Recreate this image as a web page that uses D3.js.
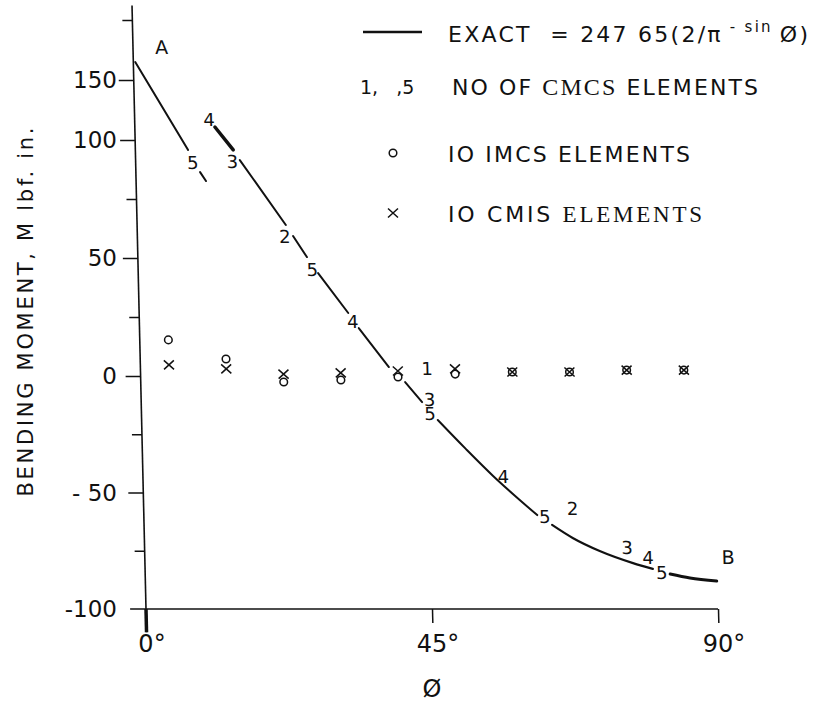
<!DOCTYPE html>
<html>
<head>
<meta charset="utf-8">
<script src="https://cdn.jsdelivr.net/npm/d3@7/dist/d3.min.js"></script>
<style>
body { margin: 0; background: #fff; }
text { font-family: "DejaVu Sans", sans-serif; fill: #111; }
.serif { font-family: "Liberation Serif", serif; }
</style>
</head>
<body>
<div id="chart"></div>
<script>
// values: phi in degrees, M in lbf.in

// the exact curve is drawn in broken pieces (gaps where the counts sit)
var curvePhi = [
    [0.3, 8.3], [10.1, 11.0], [12.6, 15.4], [16.4, 23.4], [24.5, 26.6],
    [28.3, 32.9], [34.5, 39.1], [41.6, 44.2],
    [46.6, 50.9, 55.1, 58.5, 61.9],
    [64.2, 67.4, 71.6, 76.8, 79.9],
    [82.6, 85.7, 89.9]
];
var curveM = [
    [165, 95.8], [86.4, 82.6], [110.8, 95.8], [91.5, 64.0], [59.3, 50.4],
    [43.6, 26.7], [20.3, 3.8], [-2.6, -11.2],
    [-18.9, -31.3, -42.9, -51.5, -59.7],
    [-63.9, -69.5, -75.1, -80.3, -82.8],
    [-85.0, -86.7, -88.0]
];

// 10 element results
var elemPhi = [4.5, 13.5, 22.5, 31.5, 40.5, 49.5, 58.5, 67.5, 76.5, 85.5];
var imcsM = [15.3, 7.2, -2.6, -1.7, -0.4, 0.8, 1.7, 1.7, 2.5, 2.5];
var cmisM = [4.7, 3.0, 0.8, 1.3, 2.1, 3.0, 1.7, 1.7, 2.5, 2.5];

// number of CMCS elements written beside the curve
var countText = ['5', '4', '3', '2', '5', '4', '1', '3', '5', '4', '5', '2', '3', '4', '5'];
var countPhi = [9.0, 11.7, 15.2, 23.2, 27.4, 33.6, 45.1, 45.4, 45.4, 56.7, 63.1, 67.5, 75.9, 79.2, 81.3];
var countM = [90.3, 116.7, 90.7, 58.9, 45.3, 22.9, 3.0, -10.3, -16.3, -43.3, -60.5, -56.7, -73.8, -77.7, -84.5];

var endText = ['A', 'B'];
var endPhi = [4.5, 91.8];
var endM = [177.5, -77.7];

var yMajorTicks = [-50, 0, 50, 100, 150];
var yMinorTicks = [-75, -25, 25, 75, 200];
var yLabelValues = [-100, -50, 0, 50, 100, 150];
var yLabelText = ['-100', '- 50', '0', '50', '100', '150'];
var xTicks = [0, 45, 90];
var xTickText = ['0', '45', '90'];

var width = 814,
    height = 714;

var ink = '#111';

// the y scale of the original is stretched differently above 100
var xScale = d3.scaleLinear().domain([0, 90]).range([146, 718]);
var yScale = d3.scaleLinear().domain([-100, 0, 100, 212]).range([609, 376, 140, 5.6]);

var svg = d3.select('#chart').append('svg')
    .attr('width', width)
    .attr('height', height);

// the scan is slightly sheared: y axis leans to the left toward the top
var shear = 14 / 604;
var plot = svg.append('g')
    .attr('transform', 'translate(' + (-shear * yScale(-100)) + ',0) skewX(' + (Math.atan(shear) * 180 / Math.PI) + ')');

// y axis
plot.append('line')
    .attr('x1', xScale(0)).attr('x2', xScale(0))
    .attr('y1', yScale(212)).attr('y2', yScale(-110))
    .attr('stroke', ink).attr('stroke-width', 1.6);

plot.append('line')
    .attr('x1', xScale(0)).attr('x2', xScale(0))
    .attr('y1', yScale(-100)).attr('y2', yScale(-110))
    .attr('stroke', ink).attr('stroke-width', 3.5);

var yMajor = plot.append('g')
    .attr('transform', 'translate(' + xScale(0) + ',0)')
    .attr('color', ink)
    .call(d3.axisLeft(yScale).tickValues(yMajorTicks).tickSize(15).tickFormat(''));
yMajor.select('.domain').remove();
yMajor.selectAll('line').attr('stroke-width', 1.5);

var yMinor = plot.append('g')
    .attr('transform', 'translate(' + xScale(0) + ',0)')
    .attr('color', ink)
    .call(d3.axisLeft(yScale).tickValues(yMinorTicks).tickSize(10).tickFormat(''));
yMinor.select('.domain').remove();
yMinor.selectAll('line').attr('stroke-width', 1.5);

// x axis
plot.append('line')
    .attr('x1', xScale(-2.5)).attr('x2', xScale(90))
    .attr('y1', yScale(-100)).attr('y2', yScale(-100))
    .attr('stroke', ink).attr('stroke-width', 1.6);

var xAxis = plot.append('g')
    .attr('transform', 'translate(0,' + yScale(-100) + ')')
    .attr('color', ink)
    .call(d3.axisBottom(xScale).tickValues([45, 90]).tickSize(14).tickFormat(''));
xAxis.select('.domain').remove();
xAxis.selectAll('line').attr('stroke-width', 1.5);

// exact curve
var line = d3.line()
    .x(function(d) { return xScale(d[0]); })
    .y(function(d) { return yScale(d[1]); })
    .curve(d3.curveMonotoneX);

var segWidth = [2, 2, 3.5, 2, 2, 2, 2, 2, 2, 2.2, 3];

plot.selectAll('.seg')
    .data(curvePhi.map(function(p, i) {
        return p.map(function(v, j) { return [v, curveM[i][j]]; });
    }))
    .enter().append('path')
        .attr('class', 'seg')
        .attr('d', line)
        .attr('fill', 'none')
        .attr('stroke', ink)
        .attr('stroke-width', function(d, i) { return segWidth[i]; })
        .attr('stroke-linecap', 'round');

// markers
function drawCircle(sel) {
    sel.append('circle')
        .attr('r', 3.8)
        .attr('fill', 'none')
        .attr('stroke', ink)
        .attr('stroke-width', 1.5);
}

function drawCross(sel) {
    sel.append('path')
        .attr('d', 'M-5,-4.5L5,4.5M-5,4.5L5,-4.5')
        .attr('fill', 'none')
        .attr('stroke', ink)
        .attr('stroke-width', 1.5);
}

plot.selectAll('.imcs')
    .data(elemPhi)
    .enter().append('g')
        .attr('class', 'imcs')
        .attr('transform', function(d, i) { return 'translate(' + xScale(d) + ',' + yScale(imcsM[i]) + ')'; })
        .call(drawCircle);

plot.selectAll('.cmis')
    .data(elemPhi)
    .enter().append('g')
        .attr('class', 'cmis')
        .attr('transform', function(d, i) { return 'translate(' + xScale(d) + ',' + yScale(cmisM[i]) + ')'; })
        .call(drawCross);

// element counts and end letters
plot.selectAll('.count')
    .data(countText)
    .enter().append('text')
        .attr('class', 'count')
        .attr('x', function(d, i) { return xScale(countPhi[i]); })
        .attr('y', function(d, i) { return yScale(countM[i]); })
        .attr('text-anchor', 'middle')
        .attr('dominant-baseline', 'central')
        .style('font-size', '18px')
        .text(function(d) { return d; });

plot.selectAll('.end')
    .data(endText)
    .enter().append('text')
        .attr('class', 'end')
        .attr('x', function(d, i) { return xScale(endPhi[i]); })
        .attr('y', function(d, i) { return yScale(endM[i]); })
        .attr('text-anchor', 'middle')
        .attr('dominant-baseline', 'central')
        .style('font-size', '19px')
        .text(function(d) { return d; });

// tick labels (pasted upright in the original, not sheared)
svg.selectAll('.ylab')
    .data(yLabelValues)
    .enter().append('text')
        .attr('class', 'ylab')
        .attr('x', xScale(0) - 29)
        .attr('y', function(d) { return yScale(d); })
        .attr('text-anchor', 'end')
        .attr('dominant-baseline', 'central')
        .style('font-size', '23px')
        .style('white-space', 'pre')
        .text(function(d, i) { return yLabelText[i]; });

svg.selectAll('.xlab')
    .data(xTicks)
    .enter().append('text')
        .attr('class', 'xlab')
        .attr('x', function(d) { return xScale(d); })
        .attr('y', yScale(-100) + 43)
        .attr('dx', 6)
        .attr('text-anchor', 'middle')
        .style('font-size', '24px')
        .text(function(d, i) { return xTickText[i] + '\u00B0'; });

svg.append('text')
    .attr('x', xScale(45))
    .attr('y', 697)
    .attr('text-anchor', 'middle')
    .style('font-size', '24px')
    .text('\u00D8');

svg.append('text')
    .attr('transform', 'translate(33,312) rotate(-90)')
    .attr('text-anchor', 'middle')
    .attr('textLength', 369)
    .attr('lengthAdjust', 'spacing')
    .style('font-size', '21px')
    .text('BENDING MOMENT,  M  lbf. in.');

// legend
var legend = svg.append('g');

legend.append('line')
    .attr('x1', 363).attr('x2', 422)
    .attr('y1', 32).attr('y2', 32)
    .attr('stroke', ink).attr('stroke-width', 2.5);

var exact = legend.append('text')
    .attr('x', 448).attr('y', 42)
    .attr('textLength', 360)
    .attr('lengthAdjust', 'spacing')
    .style('font-size', '22px')
    .style('white-space', 'pre');
exact.append('tspan').text('EXACT  = 247 65(2/\u03C0');
exact.append('tspan').attr('dy', -10).style('font-size', '15px').text(' - sin ');
exact.append('tspan').attr('dy', 10).text('\u00D8)');

legend.append('text')
    .attr('x', 360).attr('y', 94)
    .style('font-size', '19px')
    .style('white-space', 'pre')
    .text('1,   ,5');

var row2 = legend.append('text')
    .attr('x', 452).attr('y', 95)
    .attr('textLength', 306)
    .attr('lengthAdjust', 'spacing')
    .style('font-size', '22px')
    .style('white-space', 'pre');
row2.append('tspan').text('NO OF ');
row2.append('tspan').attr('class', 'serif').style('font-size', '24px').text('CMCS');
row2.append('tspan').text(' ELEMENTS');

legend.append('g')
    .attr('transform', 'translate(393,153)')
    .call(drawCircle);

legend.append('text')
    .attr('x', 448).attr('y', 162)
    .attr('textLength', 242)
    .attr('lengthAdjust', 'spacing')
    .style('font-size', '22px')
    .text('IO IMCS ELEMENTS');

legend.append('g')
    .attr('transform', 'translate(393,213)')
    .call(drawCross);

var row4 = legend.append('text')
    .attr('x', 448).attr('y', 222)
    .attr('textLength', 254)
    .attr('lengthAdjust', 'spacing')
    .style('font-size', '22px')
    .style('white-space', 'pre');
row4.append('tspan').text('IO CMIS ');
row4.append('tspan').attr('class', 'serif').style('font-size', '23px').text('ELEMENTS');
</script>
</body>
</html>
